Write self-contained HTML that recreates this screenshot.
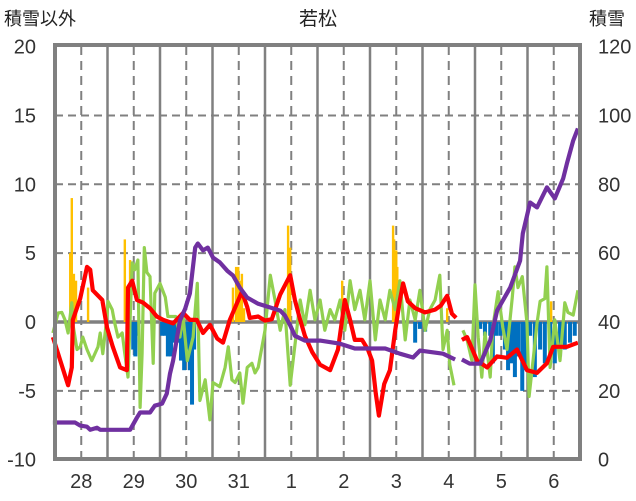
<!DOCTYPE html>
<html><head><meta charset="utf-8"><style>
body{margin:0;background:#fff;}
svg{display:block;font-family:"Liberation Sans","Noto Sans CJK JP",sans-serif;}
</style></head><body>
<svg id="chart" width="636" height="501" viewBox="0 0 636 501" xmlns="http://www.w3.org/2000/svg">
<rect width="636" height="501" fill="#fff"/>
<g id="grid"></g>
<g id="bars"></g>
<g id="lines"></g>
<g id="frame"></g>
<g id="labels"></g>
<text x="318" y="25" text-anchor="middle" font-size="19" fill="#222">若松</text>
<text x="4" y="25" font-size="18" fill="#222">積雪以外</text>
<text x="589" y="25" font-size="18" fill="#222">積雪</text>
</svg>
<script>
const leftTicks=[20,15,10,5,0,-5,-10];
const rightTicks=[120,100,80,60,40,20,0];
const dayLabels=["28","29","30","31","1","2","3","4","5","6"];
const redT=[-0.04,0.10,0.25,0.32,0.34,0.48,0.61,0.67,0.72,0.90,0.99,1.10,1.24,1.37,1.39,1.47,1.56,1.68,1.81,1.94,2.06,2.25,2.44,2.57,2.70,2.82,2.95,3.09,3.20,3.33,3.47,3.56,3.66,3.71,3.87,4.0,4.13,4.29,4.48,4.57,4.67,4.76,4.90,5.05,5.24,5.39,5.52,5.62,5.71,5.85,5.96,6.04,6.11,6.17,6.27,6.38,6.48,6.57,6.63,6.72,6.86,7.05,7.24,7.35,7.47,7.56,7.64,7.70,7.75,7.85,8.04,8.23,8.42,8.61,8.80,8.99,9.18,9.37,9.49,9.75,9.96];
const redV=[-1.1,-2.8,-4.6,-3.3,0.15,1.7,4.0,3.8,2.3,1.6,-0.4,-1.8,-3.3,-3.5,2.5,3.0,1.6,1.4,1.0,0.4,0.15,-0.1,0.65,0.15,0.15,-0.8,-0.2,-1.2,-1.5,0.15,1.4,2.2,1.1,0.3,0.4,0.1,0.2,2.0,3.4,1.6,0.15,-1.0,-2.2,-3.1,-3.5,-2.0,1.6,0.15,-1.3,-1.3,-2.0,-2.8,-5.2,-6.8,-4.5,-3.5,-0.6,1.6,2.8,1.5,1.0,0.7,0.9,1.2,1.9,0.6,0.3,null,-1.3,-1.1,-2.8,-3.3,-2.5,-2.6,-2.0,-3.5,-3.7,-3.0,-1.8,-1.8,-1.5];
const snowT=[-0.04,0.38,0.48,0.61,0.67,0.80,0.86,1.43,1.56,1.62,1.81,1.90,2.04,2.13,2.19,2.25,2.38,2.48,2.57,2.67,2.72,2.82,2.91,3.01,3.14,3.28,3.39,3.52,3.66,3.87,4.29,4.38,4.48,4.57,4.76,5.05,5.43,5.71,6.29,6.57,6.82,6.95,7.39,7.62,7.66,7.75,7.90,8.10,8.29,8.42,8.67,8.86,8.91,9.05,9.18,9.37,9.52,9.68,9.75,9.87,9.96];
const snowV=[10.8,10.8,9.9,9.6,8.7,9.3,8.7,8.7,12.2,13.7,13.7,15.7,16.3,19.2,25,28.8,40.4,43.9,48.3,61.6,62.8,60.8,61.6,58.7,57.3,54.9,53.5,50,47.1,45.3,43.3,41.9,39,36,34.6,34.6,33.7,32.3,32.3,30.8,29.7,31.7,30.8,29.1,null,29.1,27.9,27.9,34.6,43.3,50,57.8,65.7,74.7,73.3,79.1,75.9,81.7,86,92.7,96.2];
const greenT=[-0.04,0.06,0.13,0.19,0.25,0.32,0.34,0.42,0.48,0.53,0.61,0.70,0.76,0.82,0.86,0.91,0.99,1.01,1.09,1.14,1.20,1.28,1.33,1.39,1.47,1.52,1.58,1.62,1.66,1.70,1.75,1.81,1.87,1.90,2.0,2.10,2.15,2.23,2.30,2.38,2.44,2.52,2.63,2.71,2.76,2.86,2.95,3.01,3.14,3.24,3.30,3.37,3.43,3.52,3.58,3.66,3.75,3.81,3.87,4.0,4.10,4.19,4.29,4.38,4.48,4.57,4.67,4.76,4.86,4.95,5.05,5.14,5.24,5.33,5.43,5.52,5.62,5.71,5.81,5.90,6.0,6.10,6.19,6.29,6.38,6.48,6.57,6.67,6.76,6.86,6.95,7.05,7.14,7.24,7.33,7.39,7.47,7.52,7.60,7.68,7.77,7.85,7.94,8.0,8.06,8.13,8.19,8.29,8.34,8.44,8.53,8.61,8.71,8.76,8.82,8.90,8.99,9.03,9.12,9.18,9.24,9.33,9.37,9.43,9.52,9.62,9.71,9.77,9.87,9.96];
const greenV=[-0.8,0.65,0.7,0.15,-0.8,1.4,-0.1,-2.0,-1.8,-1.1,-2.0,-2.8,-2.3,-1.8,-0.8,-2.3,0.4,1.5,0.9,-0.1,-1.1,-0.8,-2.3,-4.0,4.3,3.8,4.5,-6.2,-2.3,5.4,3.6,3.3,-3.0,2.1,2.8,1.8,0.4,0.4,0.4,-1.1,0.4,-2.8,-1.1,2.8,-5.7,-4.2,-7.1,-4.4,-4.7,-3.3,-1.8,-4.2,-4.4,-3.7,-5.9,-3.3,-3.0,-3.7,-3.3,-0.6,3.4,1.6,-0.6,0.9,-4.6,-1.7,1.6,-0.2,2.3,0.15,1.6,-0.6,0.9,0.15,1.6,-0.6,3.0,0.9,2.3,0.15,3.0,-1.3,1.6,0.15,2.3,0.9,3.0,-1.3,1.6,0.15,2.3,-0.6,0.9,1.6,3.4,-2.0,-0.6,-3.1,-4.6,null,-0.6,-1.3,-2.8,2.7,-1.1,-4.0,-0.8,-4.0,-0.4,2.2,-0.4,-2.0,1.8,4.0,2.5,3.3,-0.1,-5.4,-2.3,-0.1,1.5,1.7,4.0,-3.3,0.15,-2.8,1.4,0.7,0.5,2.3];
const yellowT=[0.29,0.32,0.36,0.40,0.63,1.33,1.37,1.43,3.39,3.45,3.49,3.52,3.56,3.60,4.44,4.48,5.47,5.49,6.44,6.46,6.50,6.52,7.47,9.45];
const yellowV=[5,9,3.5,3,2.5,6,2,4.5,2.5,4,4,3,3.5,1,7,5.4,3,1.2,7,6,5.2,4,1,1.5];
const blueT=[1.49,1.53,1.58,2.04,2.10,2.15,2.21,2.27,2.34,2.40,2.46,2.51,2.57,2.61,2.65,6.86,6.95,7.05,8.10,8.19,8.29,8.34,8.40,8.48,8.57,8.63,8.70,8.76,8.82,8.90,8.95,9.05,9.14,9.24,9.33,9.43,9.52,9.62,9.71,9.81,9.90];
const blueV=[-2,-2.5,-1,-1,-1,-2.5,-2.5,-1.5,-1.5,-2.8,-3.5,-2,-3.5,-6,-2,-1.5,-0.5,-0.7,-0.5,-1,-1,-3,-1,-1,-2,-3.5,-3,-4,-2.5,-5,-3.5,-1,-4,-2,-3,-1.5,-3,-2.5,-2,-1.5,-1];

const NS="http://www.w3.org/2000/svg";
const X0=55,DX=52.5,Y0=322,DY=13.77;
const xs=d=>X0+d*DX;
const yl=v=>Y0-v*DY;
const yr=s=>yl(s/4-10);
function mk(tag,attrs,parent){const e=document.createElementNS(NS,tag);for(const k in attrs)e.setAttribute(k,attrs[k]);parent.appendChild(e);return e;}
const grid=document.getElementById('grid'),bars=document.getElementById('bars'),lines=document.getElementById('lines'),frame=document.getElementById('frame'),labels=document.getElementById('labels');

leftTicks.forEach(v=>{
  if(v!==0&&v!==20&&v!==-10){const l=mk('line',{x1:55,x2:580,y1:yl(v),y2:yl(v),stroke:'#808080','stroke-width':2,'stroke-dasharray':'8,5'},grid);
  
  }
  const t=mk('text',{x:36,y:yl(v)+7,'text-anchor':'end','font-size':20,fill:'#333'},labels);t.textContent=v;
  
  
});
rightTicks.forEach(s=>{
  const t=mk('text',{x:598,y:yr(s)+7,'font-size':20,fill:'#333'},labels);t.textContent=s;
  
  
});
dayLabels.forEach((lab,i)=>{
  const xm=xs(i+0.5);
  const l=mk('line',{x1:xm,x2:xm,y1:46,y2:459,stroke:'#808080','stroke-width':2,'stroke-dasharray':'9,6'},grid);
  
  
  if(i>0){const b=mk('line',{x1:xs(i),x2:xs(i),y1:46,y2:459,stroke:'#808080','stroke-width':2.5},grid);
  
  }
  const t=mk('text',{x:xm,y:488,'text-anchor':'middle','font-size':20,fill:'#333'},labels);t.textContent=lab;
  
  
});
yellowT.forEach((d,i)=>{
  const y=yl(yellowV[i]);
  const r=mk('rect',{x:xs(d)-1.2,y:y,width:2.4,height:Y0-y,fill:'#FFC000'},bars);
  
  
});
blueT.forEach((d,i)=>{
  const y=yl(blueV[i]);
  const r=mk('rect',{x:xs(d)-2,y:Y0,width:4,height:y-Y0,fill:'#0070C0'},bars);
  
  
});
const z=mk('line',{x1:55,x2:580,y1:Y0,y2:Y0,stroke:'#808080','stroke-width':3.5},grid);


function path(T,V,f){let d='',pen=false;T.forEach((t,i)=>{if(V[i]===null){pen=false;return;}d+=(pen?'L':'M')+xs(t).toFixed(1)+','+f(V[i]).toFixed(1);pen=true;});return d;}
const g=mk('path',{d:path(greenT,greenV,yl),fill:'none',stroke:'#92D050','stroke-width':3.2,'stroke-linejoin':'round'},lines);


const r=mk('path',{d:path(redT,redV,yl),fill:'none',stroke:'#FF0000','stroke-width':4.2,'stroke-linejoin':'round'},lines);


const p=mk('path',{d:path(snowT,snowV,yr),fill:'none',stroke:'#7030A0','stroke-width':4.2,'stroke-linejoin':'round'},lines);


const fr=mk('rect',{x:55,y:45,width:525,height:414,fill:'none',stroke:'#808080','stroke-width':4},frame);


</script>
</body></html>
